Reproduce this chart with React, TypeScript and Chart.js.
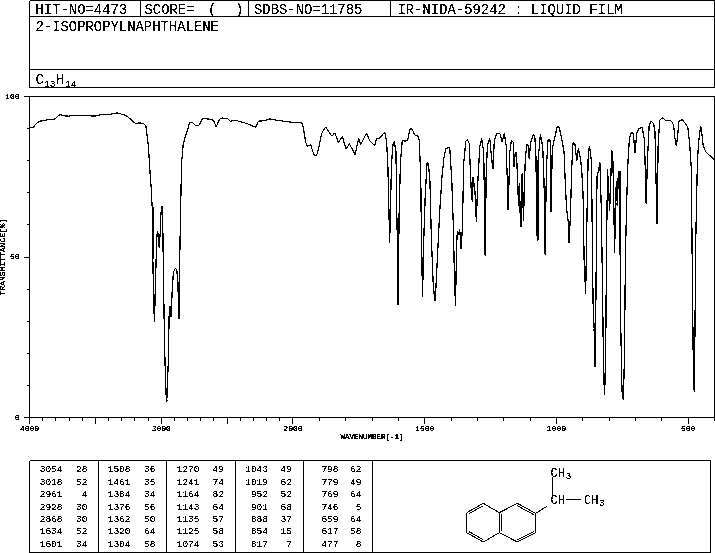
import React, { useEffect, useRef } from "react";
import { Chart, registerables } from "chart.js";

Chart.register(...registerables);

const hitNo = "HIT-NO=4473";
const scoreText = "SCORE=";
const sdbsNo = "SDBS-NO=11785";
const irText = "IR-NIDA-59242 : LIQUID FILM";
const compoundName = "2-ISOPROPYLNAPHTHALENE";

const wavenumbers = [
  4000, 3970, 3949, 3924, 3894, 3853, 3805, 3787, 3767, 3742, 3704, 3661, 3615, 3552, 3502, 3451, 3400, 3337, 3274, 3231,
  3198, 3160, 3135, 3117, 3109, 3097, 3087, 3076, 3069, 3064, 3056, 3051, 3044, 3034, 3029, 3021, 3016, 3008, 3003, 2996,
  2990, 2983, 2975, 2965, 2958, 2947, 2940, 2932, 2925, 2915, 2907, 2894, 2882, 2874, 2866, 2859, 2849, 2844, 2834, 2818,
  2801, 2786, 2768, 2743, 2712, 2687, 2641, 2604, 2583, 2558, 2540, 2497, 2477, 2439, 2402, 2352, 2283, 2263, 2212, 2175,
  2124, 2010, 1967, 1961, 1952, 1946, 1933, 1920, 1910, 1900, 1891, 1876, 1853, 1841, 1828, 1812, 1799, 1786, 1764, 1751,
  1743, 1721, 1706, 1690, 1683, 1670, 1652, 1645, 1640, 1636, 1633, 1630, 1626, 1620, 1615, 1609, 1606, 1602, 1601, 1597,
  1592, 1585, 1575, 1565, 1556, 1549, 1537, 1527, 1521, 1515, 1512, 1508, 1505, 1498, 1491, 1486, 1480, 1475, 1468, 1463,
  1460, 1453, 1443, 1434, 1427, 1420, 1405, 1397, 1391, 1387, 1383, 1379, 1376, 1373, 1367, 1362, 1357, 1352, 1344, 1338,
  1331, 1323, 1319, 1316, 1313, 1309, 1304, 1300, 1297, 1291, 1284, 1276, 1270, 1267, 1262, 1253, 1246, 1241, 1236, 1228,
  1214, 1206, 1198, 1191, 1187, 1183, 1177, 1171, 1164, 1161, 1156, 1152, 1148, 1144, 1140, 1137, 1134, 1130, 1125, 1121,
  1118, 1112, 1107, 1104, 1097, 1088, 1082, 1078, 1073, 1070, 1061, 1052, 1047, 1043, 1038, 1032, 1024, 1020, 1016, 1009,
  997, 990, 981, 971, 966, 961, 954, 952, 947, 942, 937, 930, 923, 917, 909, 904, 899, 895, 889, 884,
  879, 874, 867, 861, 857, 855, 851, 846, 840, 835, 830, 825, 821, 817, 813, 810, 806, 798, 790, 786,
  783, 779, 775, 771, 769, 765, 762, 759, 756, 751, 746, 742, 738, 733, 729, 723, 716, 708, 702, 695,
  688, 674, 666, 662, 659, 655, 648, 640, 631, 626, 622, 618, 614, 608, 598, 586, 564, 555, 550, 545,
  541, 535, 522, 511, 501, 494, 488, 484, 480, 477, 475, 471, 465, 460, 453, 450, 443, 433, 418, 404, 400,
];

const transmittance = [
  90.2, 90.4, 91.6, 92.3, 92.5, 92.8, 93, 93.8, 94.4, 94, 93.9, 94.1, 94, 94, 93.9, 94.4, 94.3, 94.9, 94.2, 92.9,
  91.6, 91.8, 91.5, 91, 88.5, 84.3, 77.5, 71.3, 65.6, 49.5, 33.9, 29.7, 42, 55.7, 58, 56.8, 53, 57.3, 63, 65.8,
  65.6, 43.2, 23, 7.9, 5, 16.7, 31.8, 34.7, 31.3, 41.2, 45.3, 46.4, 46.2, 42.2, 30.8, 51, 72.9, 80, 84.8, 87.4,
  89.5, 91.8, 92, 91, 91, 93.1, 93, 92.6, 90.5, 92.9, 93.3, 93.1, 92.3, 92.6, 92.2, 91.6, 90.4, 92.3, 92.5, 93,
  92.6, 92, 91.9, 90.5, 85.9, 84.5, 85, 81.7, 81.7, 84.8, 88.5, 90.5, 87.7, 88.7, 85.7, 87.5, 83.6, 85.3, 81.9, 86.9,
  85, 88.5, 85.9, 84.6, 86.9, 87.1, 88.8, 86.4, 79.1, 65.1, 54.5, 65, 79.1, 85.3, 85.9, 82.7, 64, 48.4, 35.1, 64,
  79.6, 86.4, 86.1, 86.4, 89.8, 90, 87.9, 87.9, 86.4, 75.5, 52.6, 37.5, 52, 69.2, 79.4, 79.1, 73.4, 56.8, 42.2, 37.5,
  36.3, 47.9, 64, 75.5, 80.7, 83.8, 84.1, 73.4, 58.8, 43.2, 34.7, 53.6, 58, 56.8, 58.6, 52.6, 58.8, 79.1, 86, 86.6,
  85.3, 70.3, 67.2, 75, 75, 70.3, 60.9, 70.3, 75.5, 84.3, 86.9, 82.7, 50.5, 74.4, 84.8, 86.9, 80.7, 77.3, 85.9, 88.4,
  88.5, 85.9, 88.5, 84.8, 75.5, 64.6, 82.7, 86.3, 85.9, 78, 82.5, 82.5, 75.5, 66, 72.9, 60.4, 59.4, 76, 61.4, 73.6,
  80.7, 85.2, 84.8, 80.7, 85.9, 88.2, 87.4, 81.7, 55.2, 79.6, 88.2, 84.3, 73.4, 50.8, 78, 86.4, 86.6, 64, 83.3, 86.4,
  90.5, 90.5, 87.4, 82.7, 72.3, 64.6, 60.4, 54.4, 63, 77.5, 85.7, 85.3, 80.1, 83.8, 80.9, 77, 69.8, 49.5, 38.6, 63,
  83.3, 84.5, 79.6, 36, 27.7, 15.7, 29.7, 75, 77, 79.4, 66, 40.6, 13.6, 7, 20.4, 52, 77.3, 64.3, 83.2, 81.2,
  69, 51.2, 70.8, 73.6, 66.1, 76.5, 76.7, 58.8, 29.2, 8, 5.5, 18.3, 51, 68.2, 78.8, 86.9, 88.7, 88.6, 82.5, 88.5,
  90, 90.3, 86.4, 74.9, 66.6, 79.6, 91, 92.4, 91.6, 89, 74.4, 60.4, 84.8, 92.6, 93.3, 92.6, 92.4, 91, 86.9, 84.6,
  86.9, 92.4, 92.8, 91.6, 90.3, 84.8, 77.5, 43.2, 12.6, 8.2, 20.4, 55.7, 79.6, 85.9, 90.7, 90, 84.8, 82.7, 81.7, 80.5, 80.3,
];

const xLabelTicks = [4000, 3000, 2000, 1500, 1000, 500];
const xLongTicks = [4000, 3500, 3000, 2500, 2000, 1500, 1000, 500];
const yTickLabels = [0, 50, 100];
const yTickStep = 10;
const xTickStep = 100;
const xTitle = "WAVENUMBER[-1]";
const yTitle = "TRANSMITTANCE[%]";

const peakWavenumbers = [
  3054, 3018, 2961, 2928, 2868, 1634, 1601,
  1508, 1461, 1384, 1376, 1362, 1320, 1304,
  1270, 1241, 1164, 1143, 1135, 1125, 1074,
  1043, 1019, 952, 901, 888, 854, 817,
  798, 779, 769, 746, 659, 617, 477,
];
const peakValues = [
  28, 52, 4, 30, 30, 52, 34,
  36, 35, 34, 56, 50, 64, 58,
  49, 74, 82, 64, 57, 58, 53,
  49, 62, 52, 68, 37, 15, 7,
  62, 49, 64, 5, 64, 58, 8,
];

// The spectrum's axis is compressed by a factor of two above 2000 cm-1.
const toAxis = (w: number) => (w >= 2000 ? (4000 - w) / 100 : 20 + (2000 - w) / 50);
const fromAxis = (u: number) => (u <= 20 ? 4000 - u * 100 : 2000 - (u - 20) * 50);

const MONO = '"Liberation Mono", monospace';

const axisFrame = {
  id: "axisFrame",
  afterDraw(chart: any) {
    const { ctx, chartArea: a, scales, canvas } = chart;
    ctx.save();
    ctx.strokeStyle = "#000";
    ctx.lineWidth = 1;
    ctx.strokeRect(a.left, a.top, a.right - a.left, a.bottom - a.top);
    ctx.beginPath();
    for (let w = 4000; w >= 400; w -= xTickStep) {
      const px = Math.floor(scales.x.getPixelForValue(toAxis(w))) + 0.5;
      ctx.moveTo(px, a.bottom);
      ctx.lineTo(px, a.bottom + (xLongTicks.includes(w) ? 6 : 3));
    }
    for (let t = 0; t <= 100; t += yTickStep) {
      const py = Math.floor(scales.y.getPixelForValue(t)) + 0.5;
      ctx.moveTo(a.left, py);
      ctx.lineTo(a.left - (t % 50 === 0 ? 5.5 : 2.5), py);
    }
    ctx.stroke();
    ctx.restore();
    // The reference is a 1-bit plot: drop the canvas's anti-aliasing.
    // The thin tick labels outside the plot need a lower cut to stay legible.
    const W = canvas.width;
    const img = ctx.getImageData(0, 0, W, canvas.height);
    const d = img.data;
    for (let i = 3; i < d.length; i += 4) {
      const p = (i - 3) / 4;
      const x = p % W;
      const y = Math.floor(p / W);
      const inside = x >= a.left && x <= a.right && y >= a.top && y <= a.bottom;
      d[i] = d[i] > (inside ? 95 : 70) ? 255 : 0;
    }
    ctx.putImageData(img, 0, 0);
  },
};

function Overlay() {
  const headerLines = [
    [29.5, 0.5, 714.5, 0.5], [29.5, 16.5, 714.5, 16.5], [29.5, 69.5, 714.5, 69.5], [29.5, 87.5, 714.5, 87.5],
    [29.5, 0.5, 29.5, 87.5], [714.5, 0.5, 714.5, 87.5], [140.5, 0.5, 140.5, 16.5], [248.5, 0.5, 248.5, 16.5], [390.5, 0.5, 390.5, 16.5],
  ];
  const tableLines = [
    [29.5, 460.5, 710.5, 460.5], [29.5, 552.5, 710.5, 552.5], [29.5, 460.5, 29.5, 552.5], [98.5, 460.5, 98.5, 552.5],
    [166.5, 460.5, 166.5, 552.5], [235.5, 460.5, 235.5, 552.5], [303.5, 460.5, 303.5, 552.5], [372.5, 460.5, 372.5, 552.5], [710.5, 460.5, 710.5, 552.5],
  ];
  const bonds = [
    [250, 190, 298, 218], [298, 218, 298, 278], [298, 278, 250, 306], [250, 306, 200, 278], [200, 278, 200, 218], [200, 218, 250, 190],
    [298, 218, 352, 190], [352, 190, 407, 220], [407, 220, 407, 278], [407, 278, 352, 306], [352, 306, 298, 278],
    [207, 221, 250, 197], [207, 275, 250, 299], [303, 222, 303, 274], [352, 197, 401, 224], [401, 275, 352, 299],
    [407, 220, 442, 198], [457, 110, 457, 165], [497, 178, 543, 178],
  ].map(([a, b, c, d]) => [400 + a / 3, 440 + b / 3, 400 + c / 3, 440 + d / 3]);
  const colFirstRight = [62.5, 130.5, 199.5, 268, 338.5];
  const colSecondRight = [87.5, 155.5, 224, 292, 361.5];
  const rowBaseline = (r: number) => 472.3 + r * 12.42;
  const hdr = { fontFamily: MONO, fontSize: 13.9, fill: "#000" };
  const tbl = { fontFamily: MONO, fontSize: 9.5, fill: "#000" };
  const mol = { fontFamily: MONO, fontSize: 12, fill: "#000" };
  const sub = { fontFamily: MONO, fontSize: 9.5, fill: "#000" };
  return (
    <svg width={715} height={553} style={{ position: "absolute", left: 0, top: 0, display: "block" }}>
      <defs>
        <filter id="oneBit" x="0" y="0" width="715" height="553" filterUnits="userSpaceOnUse" colorInterpolationFilters="sRGB">
          <feComponentTransfer>
            <feFuncA type="discrete" tableValues="0 0 1 1 1" />
          </feComponentTransfer>
        </filter>
      </defs>
      <g filter="url(#oneBit)">
      {[...headerLines, ...tableLines].map(([x1, y1, x2, y2], i) => (
        <line key={i} x1={x1} y1={y1} x2={x2} y2={y2} stroke="#000" strokeWidth={1} shapeRendering="crispEdges" />
      ))}
      <text x={35.5} y={14} {...hdr}>{hitNo}</text>
      <text x={144.5} y={14} {...hdr}>{scoreText}</text>
      <text x={208} y={14} {...hdr}>(</text>
      <text x={235} y={14} {...hdr}>)</text>
      <text x={254} y={14} {...hdr}>{sdbsNo}</text>
      <text x={397.5} y={14} {...hdr}>{irText}</text>
      <text x={35.5} y={31} {...hdr}>{compoundName}</text>
      <text x={35.5} y={84} {...hdr}>C</text>
      <text x={44} y={86.5} {...sub}>13</text>
      <text x={56} y={84} {...hdr}>H</text>
      <text x={65} y={86.5} {...sub}>14</text>
      {peakWavenumbers.map((w, i) => {
        const col = Math.floor(i / 7);
        const row = i % 7;
        return (
          <g key={i}>
            <text x={colFirstRight[col]} y={rowBaseline(row)} textAnchor="end" {...tbl}>{w}</text>
            <text x={colSecondRight[col]} y={rowBaseline(row)} textAnchor="end" {...tbl}>{peakValues[i]}</text>
          </g>
        );
      })}
      {bonds.map(([x1, y1, x2, y2], i) => (
        <line key={i} x1={x1} y1={y1} x2={x2} y2={y2} stroke="#000" strokeWidth={1} shapeRendering="crispEdges" />
      ))}
      <text x={550.5} y={476.5} {...mol}>CH</text>
      <text x={565.5} y={478.5} {...sub}>3</text>
      <text x={550.5} y={503.5} {...mol}>CH</text>
      <text x={584} y={504} {...mol}>CH</text>
      <text x={599} y={506} {...sub}>3</text>
      </g>
    </svg>
  );
}

export default function App() {
  const canvasRef = useRef<HTMLCanvasElement | null>(null);

  useEffect(() => {
    document.body.style.margin = "0";
    const chart = new Chart(canvasRef.current as HTMLCanvasElement, {
      type: "line",
      data: {
        datasets: [
          {
            data: wavenumbers.map((w, i) => ({ x: toAxis(w), y: transmittance[i] })),
            borderColor: "#000",
            borderWidth: 1,
            pointRadius: 0,
            tension: 0,
            fill: false,
          },
        ],
      },
      plugins: [axisFrame],
      options: {
        animation: false,
        responsive: false,
        devicePixelRatio: 1,
        layout: { padding: { left: 0, top: 96.5, right: 0.5, bottom: 0 } },
        plugins: { legend: { display: false }, tooltip: { enabled: false }, title: { display: false } },
        scales: {
          x: {
            type: "linear",
            min: toAxis(4000),
            max: toAxis(400),
            afterFit: (s: any) => { s.height = 135.5; },
            afterBuildTicks: (s: any) => { s.ticks = xLabelTicks.map((w) => ({ value: toAxis(w) })); },
            grid: { display: false, drawTicks: false },
            border: { display: false },
            ticks: {
              autoSkip: false,
              maxRotation: 0,
              padding: 7,
              color: "#000",
              font: { family: MONO, size: 8 },
              callback: (v: any) => String(Math.round(fromAxis(Number(v)))),
            },
            title: {
              display: true,
              text: xTitle,
              color: "#000",
              font: { family: MONO, size: 7.5, weight: "normal" },
              padding: { top: 0, bottom: 111 },
            },
          },
          y: {
            min: 0,
            max: 100,
            afterFit: (s: any) => { s.width = 29.5; },
            afterBuildTicks: (s: any) => { s.ticks = yTickLabels.map((v) => ({ value: v })); },
            grid: { display: false, drawTicks: false },
            border: { display: false },
            ticks: { padding: 10, color: "#000", font: { family: MONO, size: 8 } },
            title: {
              display: true,
              text: yTitle,
              color: "#000",
              font: { family: MONO, size: 8, weight: "normal", lineHeight: 0.75 },
              padding: 0,
            },
          },
        },
      },
    } as any);
    return () => chart.destroy();
  }, []);

  return (
    <div style={{ position: "absolute", left: 0, top: 0, width: 715, height: 553, background: "#fff", overflow: "hidden" }}>
      <canvas ref={canvasRef} width={715} height={553} style={{ position: "absolute", left: 0, top: 0, display: "block" }} />
      <Overlay />
    </div>
  );
}
